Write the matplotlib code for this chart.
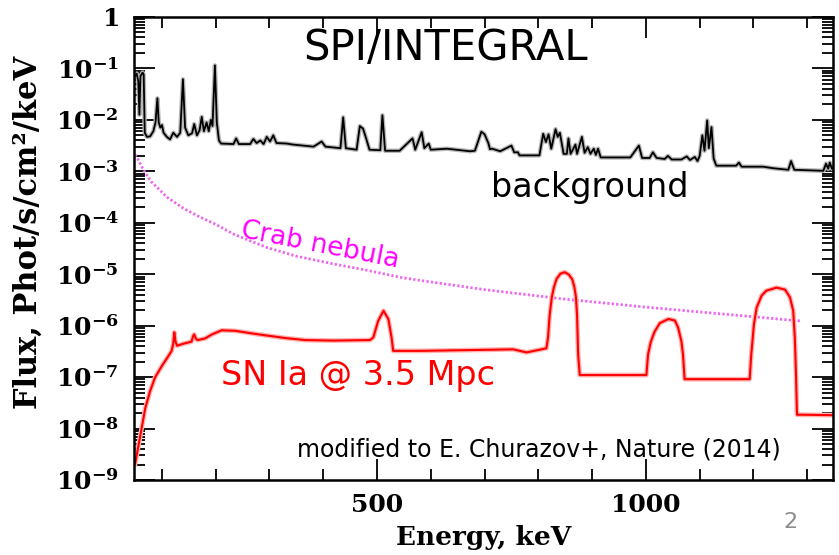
import matplotlib
matplotlib.use("Agg")
import numpy as np
import matplotlib.pyplot as plt
from matplotlib.ticker import FixedLocator, FixedFormatter, LogLocator, NullFormatter

# SPI background spectrum (energy keV, log10 flux)
bkg_e = [50, 53, 56, 58, 60, 64, 66, 68, 72, 78, 84, 88, 91.5, 94, 97, 100, 103, 109, 115, 121,
         128, 134, 139, 143, 149, 156, 160, 165, 170, 174, 178, 183, 187, 191, 194, 198.5, 202, 206,
         210, 233, 238, 243, 264, 270, 276, 283, 289, 295, 301, 307, 313, 332, 344, 382, 397, 404,
         432, 437, 442, 462, 468, 474, 480, 486, 506, 510, 515, 542, 566, 571, 583, 588, 596, 600,
         630, 673, 682, 694, 700, 707, 710, 714, 729, 750, 755, 762, 765, 802, 809, 814, 819, 824,
         832, 836, 840, 847, 853, 856, 860, 869, 872, 881, 886, 892, 897, 903, 907, 911, 916, 971,
         987, 993, 1007, 1013, 1020, 1035, 1041, 1048, 1066, 1076, 1082, 1091, 1096, 1100, 1105,
         1109, 1114, 1117, 1122, 1126, 1131, 1168, 1173, 1178, 1218, 1237, 1265, 1270, 1276, 1330,
         1335, 1339, 1342, 1346, 1350]
bkg_logf = [-1.15, -1.10, -1.25, -1.90, -1.15, -1.08, -1.12, -2.25, -2.33, -2.32, -2.22, -2.05,
            -1.58, -2.05, -2.15, -2.10, -2.25, -2.33, -2.38, -2.25, -2.33, -2.25, -1.21, -2.15,
            -2.30, -2.26, -2.08, -2.30, -2.20, -1.94, -2.22, -2.05, -2.22, -2.00, -2.12, -0.94,
            -2.05, -2.40, -2.46, -2.47, -2.36, -2.47, -2.47, -2.37, -2.45, -2.40, -2.47, -2.33,
            -2.42, -2.30, -2.45, -2.46, -2.48, -2.52, -2.42, -2.52, -2.55, -1.95, -2.55, -2.58,
            -2.12, -2.17, -2.37, -2.58, -2.59, -1.91, -2.60, -2.60, -2.36, -2.58, -2.24, -2.55,
            -2.46, -2.58, -2.56, -2.61, -2.60, -2.23, -2.28, -2.45, -2.57, -2.56, -2.61, -2.50,
            -2.63, -2.63, -2.69, -2.69, -2.27, -2.43, -2.28, -2.56, -2.18, -2.33, -2.25, -2.66,
            -2.66, -2.36, -2.66, -2.48, -2.66, -2.33, -2.64, -2.53, -2.66, -2.56, -2.68, -2.56,
            -2.73, -2.73, -2.50, -2.74, -2.74, -2.63, -2.74, -2.76, -2.70, -2.77, -2.77, -2.71,
            -2.78, -2.72, -2.80, -2.70, -2.30, -2.60, -2.01, -2.55, -2.14, -2.75, -2.89, -2.89,
            -2.83, -2.91, -2.91, -2.94, -2.97, -2.80, -2.97, -2.99, -2.85, -2.95, -2.83, -2.95,
            -2.90]

# Crab nebula
crab_e = [50, 53, 66, 80, 109, 140, 171, 200, 233, 295, 350, 419, 480, 543, 580, 700, 846, 1000,
          1150, 1289]
crab_logf = [-2.68, -2.72, -2.98, -3.20, -3.50, -3.72, -3.89, -4.03, -4.22, -4.48, -4.65, -4.80,
             -4.92, -5.06, -5.12, -5.30, -5.48, -5.64, -5.78, -5.91]

# SN Ia at 3.5 Mpc
sn_e = [50, 60, 69, 78, 87, 100, 112, 118, 121, 123, 125, 128, 140, 155, 158, 160, 163, 166, 180,
        193, 211, 236, 280, 329, 366, 420, 487, 493, 502, 512, 521, 527, 530, 580, 700, 753, 778,
        815, 818, 821, 825, 829, 834, 841, 849, 857, 863, 867, 870, 872, 874, 877, 1001, 1004,
        1009, 1016, 1026, 1042, 1054, 1060, 1066, 1069, 1072, 1193, 1196, 1201, 1206, 1215, 1224,
        1243, 1259, 1268, 1274, 1277, 1279, 1281, 1350]
sn_logf = [-8.69, -8.12, -7.60, -7.27, -7.01, -6.78, -6.59, -6.49, -6.35, -6.13, -6.30, -6.39,
           -6.35, -6.31, -6.20, -6.17, -6.25, -6.28, -6.25, -6.17, -6.09, -6.10, -6.17, -6.24,
           -6.28, -6.29, -6.28, -6.23, -5.91, -5.71, -5.87, -6.23, -6.49, -6.49, -6.47, -6.46,
           -6.52, -6.44, -6.23, -5.80, -5.45, -5.25, -5.09, -4.99, -4.96, -5.01, -5.10, -5.25,
           -5.45, -5.80, -6.56, -6.96, -6.96, -6.56, -6.32, -6.12, -5.95, -5.87, -5.90, -6.04,
           -6.30, -6.56, -7.04, -7.04, -6.56, -5.97, -5.65, -5.42, -5.32, -5.26, -5.30, -5.45,
           -5.71, -6.23, -6.88, -7.73, -7.74]

ytick_vals = [1e-9, 1e-8, 1e-7, 1e-6, 1e-5, 1e-4, 1e-3, 1e-2, 1e-1, 1]
ytick_labels = [r"$\mathbf{10^{-9}}$", r"$\mathbf{10^{-8}}$", r"$\mathbf{10^{-7}}$",
                r"$\mathbf{10^{-6}}$", r"$\mathbf{10^{-5}}$", r"$\mathbf{10^{-4}}$",
                r"$\mathbf{10^{-3}}$", r"$\mathbf{10^{-2}}$", r"$\mathbf{10^{-1}}$",
                r"$\mathbf{1}$"]
xtick_major = [500, 1000]
xtick_minor = [100, 200, 300, 400, 600, 700, 800, 900, 1100, 1200, 1300]

plt.rcParams["mathtext.fontset"] = "dejavuserif"

W, H = 839, 555
fig = plt.figure(figsize=(W / 100, H / 100), dpi=100)
ax = fig.add_axes([134 / W, 1 - 480 / H, (833 - 134) / W, (480 - 17) / H])
ax.set_yscale("log")
ax.set_xlim(48, 1348)
ax.set_ylim(1e-9, 1)

bkg_f = 10 ** np.array(bkg_logf)
crab_f = 10 ** np.array(crab_logf)
sn_f = 10 ** np.array(sn_logf)

ax.plot(bkg_e, bkg_f, color="#b8b8b8", lw=3.2, solid_joinstyle="round")
ax.plot(bkg_e, bkg_f, color="black", lw=1.3)
ax.plot(crab_e, crab_f, color="#ee66ee", lw=2.0, linestyle=(0, (0.8, 0.8)))
ax.plot(sn_e, sn_f, color="#ffb0b0", lw=3.4)
ax.plot(sn_e, sn_f, color="red", lw=1.5)

ax.xaxis.set_major_locator(FixedLocator(xtick_major))
ax.xaxis.set_minor_locator(FixedLocator(xtick_minor))
ax.yaxis.set_major_locator(FixedLocator(ytick_vals))
ax.yaxis.set_major_formatter(FixedFormatter(ytick_labels))
ax.yaxis.set_minor_locator(LogLocator(base=10, subs=np.arange(2, 10) * 1.0, numticks=20))
ax.yaxis.set_minor_formatter(NullFormatter())
ax.tick_params(which="both", direction="in", top=True, right=True, width=1.3)
ax.tick_params(which="major", length=15, labelsize=18)
ax.tick_params(axis="y", which="major", pad=11)
ax.tick_params(axis="x", which="major", pad=9)
ax.tick_params(which="minor", length=8)
for lab in ax.get_xticklabels():
    lab.set_family("DejaVu Serif")
    lab.set_fontweight("bold")
for sp in ax.spines.values():
    sp.set_linewidth(1.8)

fig.text(28 / W, 1 - 232 / H, "Flux, Phot/s/cm²/keV", rotation=90, ha="center", va="center",
         family="DejaVu Serif", fontweight="semibold", fontsize=22)
fig.text(484 / W, 1 - 538 / H, "Energy, keV", ha="center", va="center",
         family="DejaVu Serif", fontweight="semibold", fontsize=19)

fig.text(446 / W, 1 - 48 / H, "SPI/INTEGRAL", ha="center", va="center", fontsize=30)
fig.text(590 / W, 1 - 188 / H, "background", ha="center", va="center", fontsize=24)
fig.text(320 / W, 1 - 245 / H, "Crab nebula", ha="center", va="center", fontsize=19,
         rotation=-11, color="#ff00ff")
fig.text(358 / W, 1 - 376 / H, "SN Ia @ 3.5 Mpc", ha="center", va="center", fontsize=24,
         color="red")
fig.text(539 / W, 1 - 450 / H, "modified to E. Churazov+, Nature (2014)", ha="center",
         va="center", fontsize=17)
fig.text(790 / W, 1 - 522 / H, "2", ha="center", va="center", fontsize=16, color="#8c8c8c")

fig.savefig("out.png", dpi=100)
